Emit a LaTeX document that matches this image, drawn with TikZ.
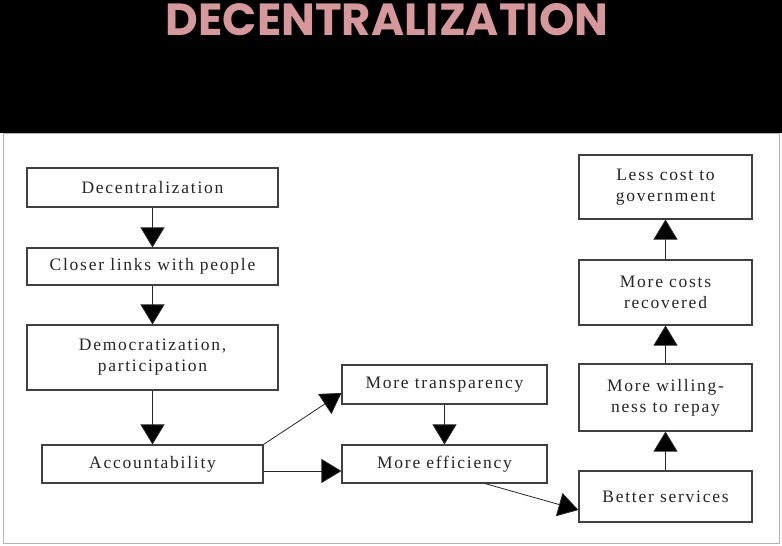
\documentclass[tikz,border=0pt]{standalone}
\usepackage{fontspec}
\usepackage{xcolor}
\usetikzlibrary{arrows.meta}
\newfontfamily\boxfont[LetterSpace=10]{Liberation Serif}
\newfontfamily\titlefont{Poppins}
\definecolor{titlepink}{RGB}{214,152,154}

\tikzset{
  box/.style={draw=black!75, line width=1.1pt, fill=white, inner sep=0pt,
    align=center, text=black!85, font=\boxfont\fontsize{17.5}{21}\selectfont},
  flow/.style={draw=black!85, line width=0.8pt,
    -{Triangle[width=24pt,length=20pt,fill=black]}}
}

\begin{document}
\begin{tikzpicture}[x=1pt,y=-1pt]
  \useasboundingbox (0,0) rectangle (782,546);
  \fill[black] (0,0) rectangle (782,133);
  \fill[white] (0,133) rectangle (782,546);
  \draw[black!30, line width=0.8pt] (3,133) rectangle (779,543);
  \node[font=\titlefont\bfseries\fontsize{45}{45}\selectfont, text=titlepink]
    (title) at (387,20) {DECENTRALIZATION};

  % left column
  \node[box, minimum width=251pt, minimum height=39pt] (dec) at (152.5,187.5) {Decentralization};
  \node[box, minimum width=251pt, minimum height=37pt] (links) at (152.5,266.5) {Closer links with people};
  \node[box, minimum width=251pt, minimum height=65pt] (demo) at (152.5,357.5) {Democratization,\\participation};
  \node[box, minimum width=221pt, minimum height=38pt] (acc) at (152.5,464) {Accountability};

  % middle column
  \node[box, minimum width=205pt, minimum height=39pt] (trans) at (444.5,384.5) {More transparency};
  \node[box, minimum width=205pt, minimum height=38pt] (eff) at (444.5,464) {More efficiency};

  % right column
  \node[box, minimum width=173pt, minimum height=51pt] (serv) at (665.5,496.5) {Better services};
  \node[box, minimum width=173pt, minimum height=67pt] (will) at (665.5,397.5) {More willing-\\ness to repay};
  \node[box, minimum width=173pt, minimum height=65pt] (cost) at (665.5,292.5) {More costs\\recovered};
  \node[box, minimum width=173pt, minimum height=64pt] (less) at (665.5,187) {Less cost to\\government};

  \draw[flow] (dec) -- (links);
  \draw[flow] (links) -- (demo);
  \draw[flow] (demo) -- (acc);
  \draw[flow] (acc.north east) -- (trans.west |- 0,393);
  \draw[flow] (acc.east |- 0,471) -- (eff.west |- 0,471);
  \draw[flow] (trans.south) -- (eff.north);
  \draw[flow] (eff.south -| 485,0) -- (serv.west |- 0,510);
  \draw[flow] (serv) -- (will);
  \draw[flow] (will) -- (cost);
  \draw[flow] (cost) -- (less);
\end{tikzpicture}
\end{document}
